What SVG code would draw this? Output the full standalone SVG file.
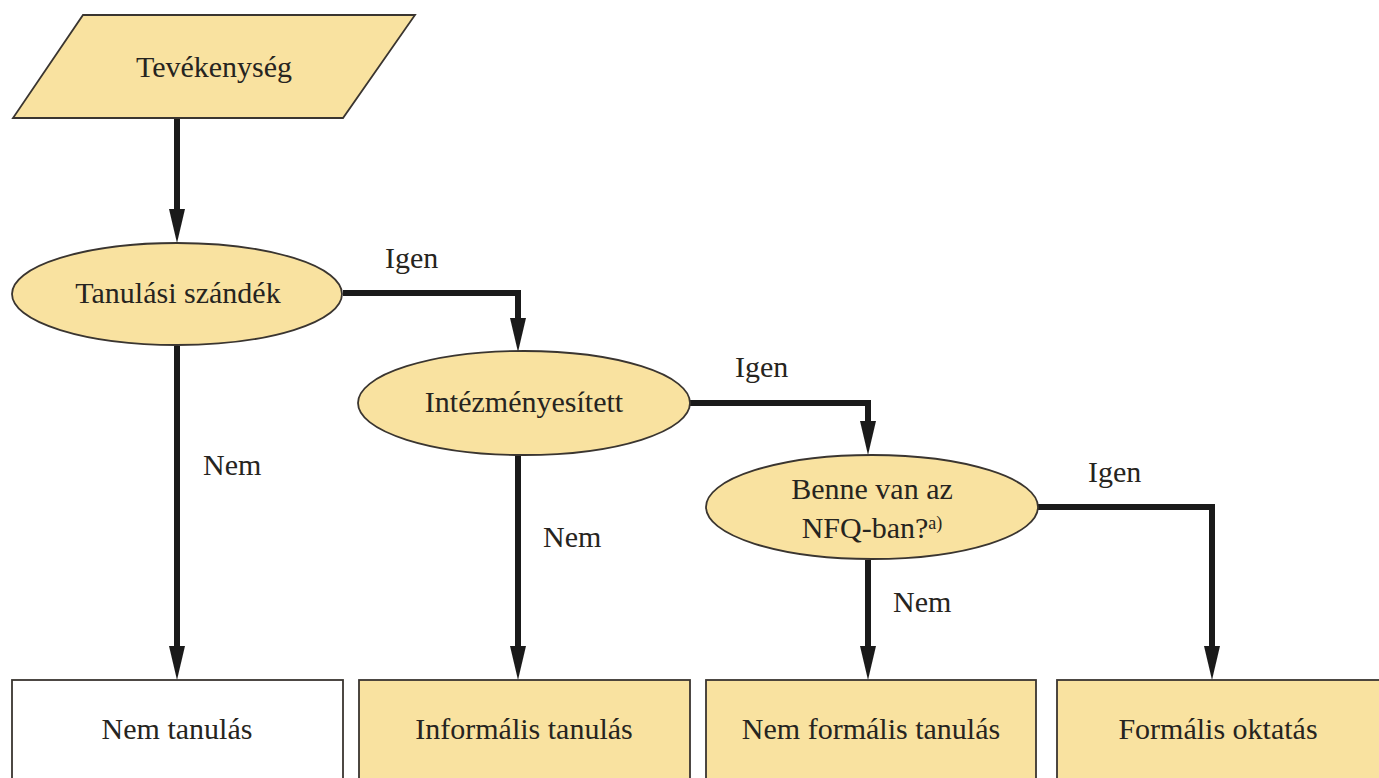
<svg xmlns="http://www.w3.org/2000/svg" width="1379" height="778" viewBox="0 0 1379 778">
<defs>
<style>
.shape{fill:#F9E2A0;stroke:#3a3530;stroke-width:1.8}
.white{fill:#ffffff;stroke:#3a3530;stroke-width:1.8}
.t{font-family:"Liberation Serif","Times New Roman",serif;font-size:30px;fill:#262420;text-anchor:middle}
.lbl{font-family:"Liberation Serif","Times New Roman",serif;font-size:30px;fill:#262420}
.c{fill:none;stroke:#1a1a1a;stroke-width:6}
</style>
<marker id="ah" markerUnits="userSpaceOnUse" markerWidth="40" markerHeight="24" refX="0" refY="10" orient="auto" viewBox="0 0 40 20">
<path d="M0,2 L34,10 L0,18 Z" fill="#1a1a1a"/>
</marker>
</defs>
<rect width="1379" height="778" fill="#ffffff"/>

<g id="connectors">
<path class="c" d="M177,118 V209" marker-end="url(#ah)"/>
<path class="c" d="M343,293 H518 V318" marker-end="url(#ah)"/>
<path class="c" d="M177,346 V646" marker-end="url(#ah)"/>
<path class="c" d="M690,403 H868 V421" marker-end="url(#ah)"/>
<path class="c" d="M518,455 V646" marker-end="url(#ah)"/>
<path class="c" d="M1038,507 H1212 V646" marker-end="url(#ah)"/>
<path class="c" d="M868,560 V646" marker-end="url(#ah)"/>
<text class="lbl" x="385" y="268">Igen</text>
<text class="lbl" x="735" y="377">Igen</text>
<text class="lbl" x="1088" y="482">Igen</text>
<text class="lbl" x="203" y="475">Nem</text>
<text class="lbl" x="543" y="547">Nem</text>
<text class="lbl" x="893" y="612">Nem</text>
</g>

<g id="tevekenyseg">
<polygon class="shape" points="83,15 415,15 343,118 13,118"/>
<text class="t" x="214" y="77">Tevékenység</text>
</g>

<g id="tanulasi-szandek">
<ellipse class="shape" cx="177" cy="294" rx="165" ry="51"/>
<text class="t" x="178" y="303">Tanulási szándék</text>
</g>

<g id="intezmenyesitett">
<ellipse class="shape" cx="524" cy="403" rx="166" ry="52"/>
<text class="t" x="524" y="412">Intézményesített</text>
</g>

<g id="nfq">
<ellipse class="shape" cx="872" cy="507" rx="166" ry="52"/>
<text class="t" x="872" y="499">Benne van az</text>
<text class="t" x="872" y="538">NFQ-ban?<tspan font-size="18" dy="-9">a)</tspan></text>
</g>

<g id="nem-tanulas">
<rect class="white" x="12" y="680" width="331" height="110"/>
<text class="t" x="177" y="739">Nem tanulás</text>
</g>

<g id="informalis">
<rect class="shape" x="359" y="680" width="331" height="110"/>
<text class="t" x="524" y="739">Informális tanulás</text>
</g>

<g id="nem-formalis">
<rect class="shape" x="706" y="680" width="330" height="110"/>
<text class="t" x="871" y="739">Nem formális tanulás</text>
</g>

<g id="formalis">
<rect class="shape" x="1057" y="680" width="340" height="110"/>
<text class="t" x="1218" y="739">Formális oktatás</text>
</g>
</svg>
